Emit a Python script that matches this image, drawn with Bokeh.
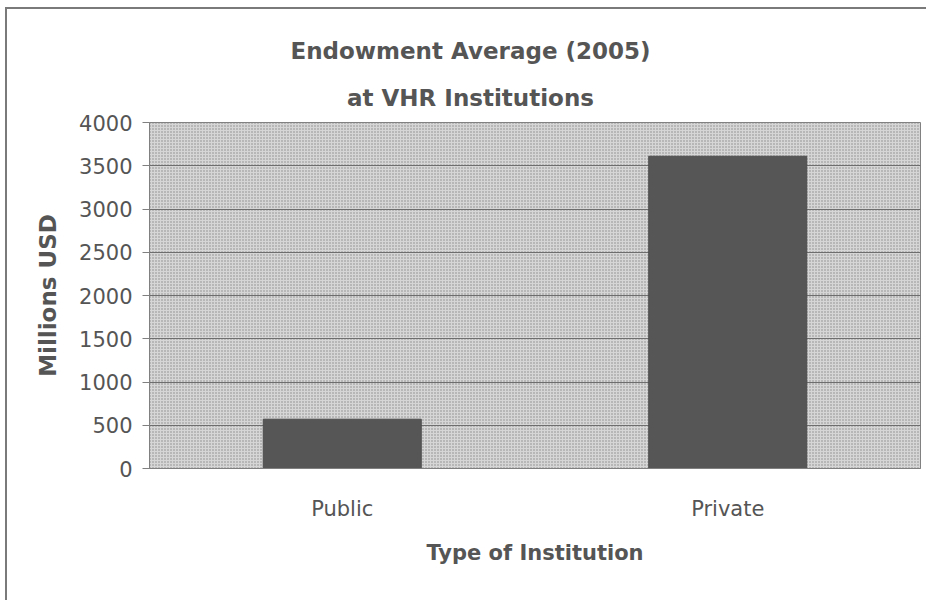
from bokeh.plotting import figure
from bokeh.layouts import column
from bokeh.models import (Range1d, FactorRange, SingleIntervalTicker, BoxAnnotation,
                          Div, ColumnDataSource)
from bokeh.embed import file_html
from bokeh.resources import INLINE

# ---- data ----
categories = ["Public", "Private"]
endowment = [570, 3610]
y_ticks_interval = 500
title_line1 = "Endowment Average (2005)"
title_line2 = "at VHR Institutions"
x_label = "Type of Institution"
y_label = "Millions USD"

FONT = "DejaVu Sans"
TXT = "#555555"
AX = "#808080"

src = ColumnDataSource(dict(cat=categories, val=endowment))

# two-line title, centred over the whole chart
title_div = Div(
    text=(f'<div style="padding:19px 0 0 8px; text-align:center; font-family:\'{FONT}\';'
          f' font-weight:bold; font-size:23px; line-height:47px; color:{TXT};'
          f' width:919px; box-sizing:border-box; margin:0;">'
          f'{title_line1}<br>{title_line2}</div>'),
    width=919, height=100, margin=0)

p = figure(width=919, height=491, title=None,
           x_range=FactorRange(factors=categories),
           y_range=Range1d(0, 4000),
           output_backend="svg", toolbar_location=None,
           min_border_left=142, min_border_right=6,
           min_border_top=13, min_border_bottom=132)
p.margin = 0
p.border_fill_color = "white"
p.border_fill_alpha = 0

# stippled plot area
p.background_fill_color = "#d6d6d6"
p.add_layout(BoxAnnotation(level="image", fill_color=None, line_color=None,
                           hatch_pattern=".", hatch_color="#8a8a8a",
                           hatch_scale=3, hatch_weight=1))
p.outline_line_color = AX
p.outline_line_width = 1

# bars
p.vbar(x="cat", top="val", width=0.41, source=src,
       fill_color="#565656", line_color="#4e4e4e")

# grid
p.xgrid.visible = False
p.ygrid.grid_line_color = "#6e6e6e"
p.ygrid.grid_line_width = 1

# y axis
p.yaxis.ticker = SingleIntervalTicker(interval=y_ticks_interval, num_minor_ticks=0)
p.yaxis.axis_line_color = AX
p.yaxis.major_tick_line_color = AX
p.yaxis.major_tick_out = 7
p.yaxis.major_tick_in = 0
p.yaxis.minor_tick_line_color = None
p.yaxis.major_label_standoff = 10
p.yaxis.major_label_text_font = FONT
p.yaxis.major_label_text_font_size = "21px"
p.yaxis.major_label_text_color = TXT
p.yaxis.axis_label = y_label
p.yaxis.axis_label_text_font = FONT
p.yaxis.axis_label_text_font_size = "23px"
p.yaxis.axis_label_text_font_style = "bold"
p.yaxis.axis_label_text_color = TXT
p.yaxis.axis_label_standoff = 15

# x axis
p.xaxis.axis_line_color = AX
p.xaxis.major_tick_line_color = None
p.xaxis.major_label_standoff = 22
p.xaxis.major_label_text_font = FONT
p.xaxis.major_label_text_font_size = "21px"
p.xaxis.major_label_text_color = TXT
p.xaxis.axis_label = x_label
p.xaxis.axis_label_text_font = FONT
p.xaxis.axis_label_text_font_size = "21px"
p.xaxis.axis_label_text_font_style = "bold"
p.xaxis.axis_label_text_color = TXT
p.xaxis.axis_label_standoff = 17

layout = column(title_div, p, spacing=0)
layout.margin = (7, 0, 0, 5)
layout.styles = {"border-left": "2px solid #7a7a7a", "border-top": "2px solid #7a7a7a",
                 "background-color": "white"}

open("out.html", "w").write(file_html(layout, INLINE))
